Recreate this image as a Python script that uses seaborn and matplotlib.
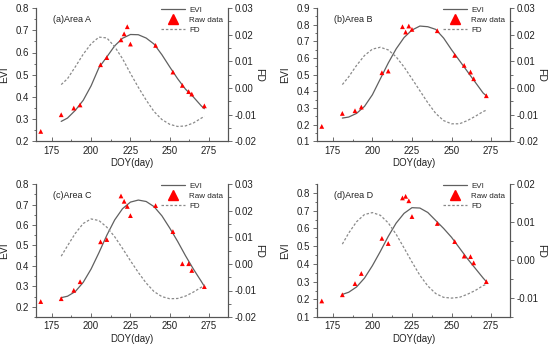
import numpy as np
import pandas as pd
import seaborn as sns
import matplotlib.pyplot as plt
from matplotlib.lines import Line2D
from matplotlib.ticker import MultipleLocator, FormatStrFormatter

sns.set_style("ticks")
plt.rcParams['font.family'] = ['Liberation Sans', 'DejaVu Sans']

# observation dates and fitted-curve dates
raw_doy = [168, 181, 189, 193, 206, 210, 219, 221, 223, 225, 241, 252, 258, 262, 264, 272]
fit_doy = [181, 185, 190, 195, 200, 205, 210, 215, 220, 225, 230, 235, 240, 245, 250, 255, 260, 265, 270, 272]

raw_a = [0.245, 0.32, 0.35, 0.364, 0.545, 0.577, 0.657, 0.684, 0.716, 0.638, 0.632, 0.512, 0.452, 0.424, 0.413, 0.36]
raw_b = [0.19, 0.268, 0.284, 0.306, 0.512, 0.522, 0.788, 0.756, 0.792, 0.772, 0.764, 0.616, 0.556, 0.516, 0.476, 0.374]
raw_c = [0.226, 0.24, 0.281, 0.323, 0.518, 0.529, 0.742, 0.716, 0.691, 0.646, 0.695, 0.568, 0.411, 0.411, 0.378, 0.299]
raw_d = [0.191, 0.226, 0.289, 0.346, 0.544, 0.515, 0.772, 0.781, 0.756, 0.667, 0.628, 0.526, 0.444, 0.441, 0.406, 0.30]

evi_a = [0.29, 0.305, 0.34, 0.385, 0.45, 0.532, 0.58, 0.63, 0.664, 0.681, 0.68, 0.665, 0.638, 0.59,
         0.535, 0.482, 0.435, 0.40, 0.36, 0.347]
fd_a = [0.0013, 0.0035, 0.008, 0.0127, 0.0166, 0.0191, 0.0188, 0.0155, 0.011, 0.0055, 0.0003, -0.0045,
        -0.0088, -0.0118, -0.0136, -0.0144, -0.0142, -0.0131, -0.0113, -0.0106]
evi_b = [0.24, 0.246, 0.268, 0.31, 0.38, 0.475, 0.57, 0.655, 0.723, 0.768, 0.792, 0.788, 0.772, 0.72,
         0.65, 0.585, 0.52, 0.455, 0.39, 0.374]
fd_b = [0.0013, 0.0042, 0.0085, 0.0122, 0.0146, 0.0153, 0.0143, 0.0117, 0.0079, 0.0035, -0.001, -0.0055,
        -0.0095, -0.0122, -0.0134, -0.0134, -0.0122, -0.0106, -0.0088, -0.0083]
evi_c = [0.245, 0.252, 0.275, 0.32, 0.385, 0.465, 0.55, 0.625, 0.68, 0.712, 0.722, 0.715, 0.69, 0.645,
         0.585, 0.52, 0.45, 0.385, 0.325, 0.30]
fd_c = [0.0029, 0.0068, 0.0115, 0.0152, 0.0169, 0.0163, 0.0138, 0.0102, 0.0058, 0.0012, -0.0032, -0.0072,
        -0.0104, -0.0123, -0.0131, -0.013, -0.0121, -0.0106, -0.0088, -0.008]
evi_d = [0.228, 0.24, 0.27, 0.32, 0.39, 0.47, 0.555, 0.63, 0.685, 0.717, 0.715, 0.69, 0.645, 0.60,
         0.55, 0.49, 0.43, 0.375, 0.32, 0.30]
fd_d = [0.0042, 0.0071, 0.0101, 0.012, 0.0125, 0.0118, 0.0098, 0.0068, 0.0032, -0.0005, -0.004, -0.0068,
        -0.0088, -0.0098, -0.01, -0.0098, -0.009, -0.008, -0.0067, -0.0064]

panel_labels = ["(a)Area A", "(b)Area B", "(c)Area C", "(d)Area D"]
evi_ylims = [(0.2, 0.8), (0.1, 0.9), (0.15, 0.8), (0.1, 0.85)]
fd_ylims = [(-0.02, 0.03), (-0.02, 0.03), (-0.02, 0.03), (-0.015, 0.02)]

LINE_C = '#606060'
SPINE_C = '#555555'
TXT_C = '#222222'


def draw_panel(rect, label, raw, evi, fd, ylim, fdlim):
    ax = fig.add_axes(rect)
    ax2 = ax.twinx()
    fit = pd.DataFrame({'doy': fit_doy, 'evi': evi, 'fd': fd})
    obs = pd.DataFrame({'doy': raw_doy, 'evi': raw})

    sns.lineplot(data=fit, x='doy', y='evi', ax=ax, color=LINE_C, lw=0.9)
    sns.scatterplot(data=obs, x='doy', y='evi', ax=ax, marker='^', color='red',
                    s=12, edgecolor='none', zorder=5)
    sns.lineplot(data=fit, x='doy', y='fd', ax=ax2, color='#8a8a8a', lw=0.9,
                 linestyle=(0, (2, 1.5)))

    ax.set_xlim(165, 287)
    ax.set_ylim(*ylim)
    ax2.set_ylim(*fdlim)
    ax.xaxis.set_major_locator(MultipleLocator(25))
    ax.xaxis.set_minor_locator(MultipleLocator(12.5))
    ax.yaxis.set_major_locator(MultipleLocator(0.1))
    ax.yaxis.set_minor_locator(MultipleLocator(0.05))
    ax.yaxis.set_major_formatter(FormatStrFormatter('%.1f'))
    ax2.yaxis.set_major_locator(MultipleLocator(0.01))
    ax2.yaxis.set_minor_locator(MultipleLocator(0.005))
    ax2.yaxis.set_major_formatter(FormatStrFormatter('%.2f'))

    for a in (ax, ax2):
        a.spines['top'].set_visible(False)
        for s in a.spines.values():
            s.set_color(SPINE_C)
            s.set_linewidth(0.8)
        a.tick_params(which='both', colors=SPINE_C, labelcolor=TXT_C, labelsize=7, width=0.6)
        a.tick_params(which='major', length=3)
        a.tick_params(which='minor', length=1.8)
    ax.tick_params(axis='x', which='both', direction='in', pad=3)
    ax.tick_params(axis='y', which='both', direction='out', pad=2)
    ax2.tick_params(axis='y', which='both', direction='out', pad=2)

    ax.set_xlabel('DOY(day)', fontsize=7, color=TXT_C, labelpad=2)
    ax.set_ylabel('EVI', fontsize=7.5, color=TXT_C, labelpad=5)
    ax2.set_ylabel('FD', fontsize=7.5, color=TXT_C, rotation=270, labelpad=5)
    ax.text(0.087, 0.915, label, transform=ax.transAxes, fontsize=6.5, color=TXT_C, va='center')

    handles = [Line2D([], [], color=LINE_C, lw=0.9),
               Line2D([], [], color='red', marker='^', ls='none', markersize=6.5),
               Line2D([], [], color='#8a8a8a', lw=0.9, ls=(0, (2, 1.5)))]
    ax2.legend(handles, ['EVI', 'Raw data', 'FD'], loc='upper right', bbox_to_anchor=(1.0, 1.05),
               frameon=False, fontsize=5.8, handlelength=3.0, handletextpad=0.5,
               labelspacing=0.3, borderaxespad=0.2)


fig = plt.figure(figsize=(5.5, 3.5), dpi=100)
rects = [[0.0655, 0.596, 0.349, 0.381],
         [0.5764, 0.596, 0.351, 0.381],
         [0.0655, 0.094, 0.349, 0.380],
         [0.5764, 0.094, 0.351, 0.380]]
raws = [raw_a, raw_b, raw_c, raw_d]
evis = [evi_a, evi_b, evi_c, evi_d]
fds = [fd_a, fd_b, fd_c, fd_d]
for i in range(4):
    draw_panel(rects[i], panel_labels[i], raws[i], evis[i], fds[i], evi_ylims[i], fd_ylims[i])

fig.savefig('out.png', dpi=100, facecolor='white')
